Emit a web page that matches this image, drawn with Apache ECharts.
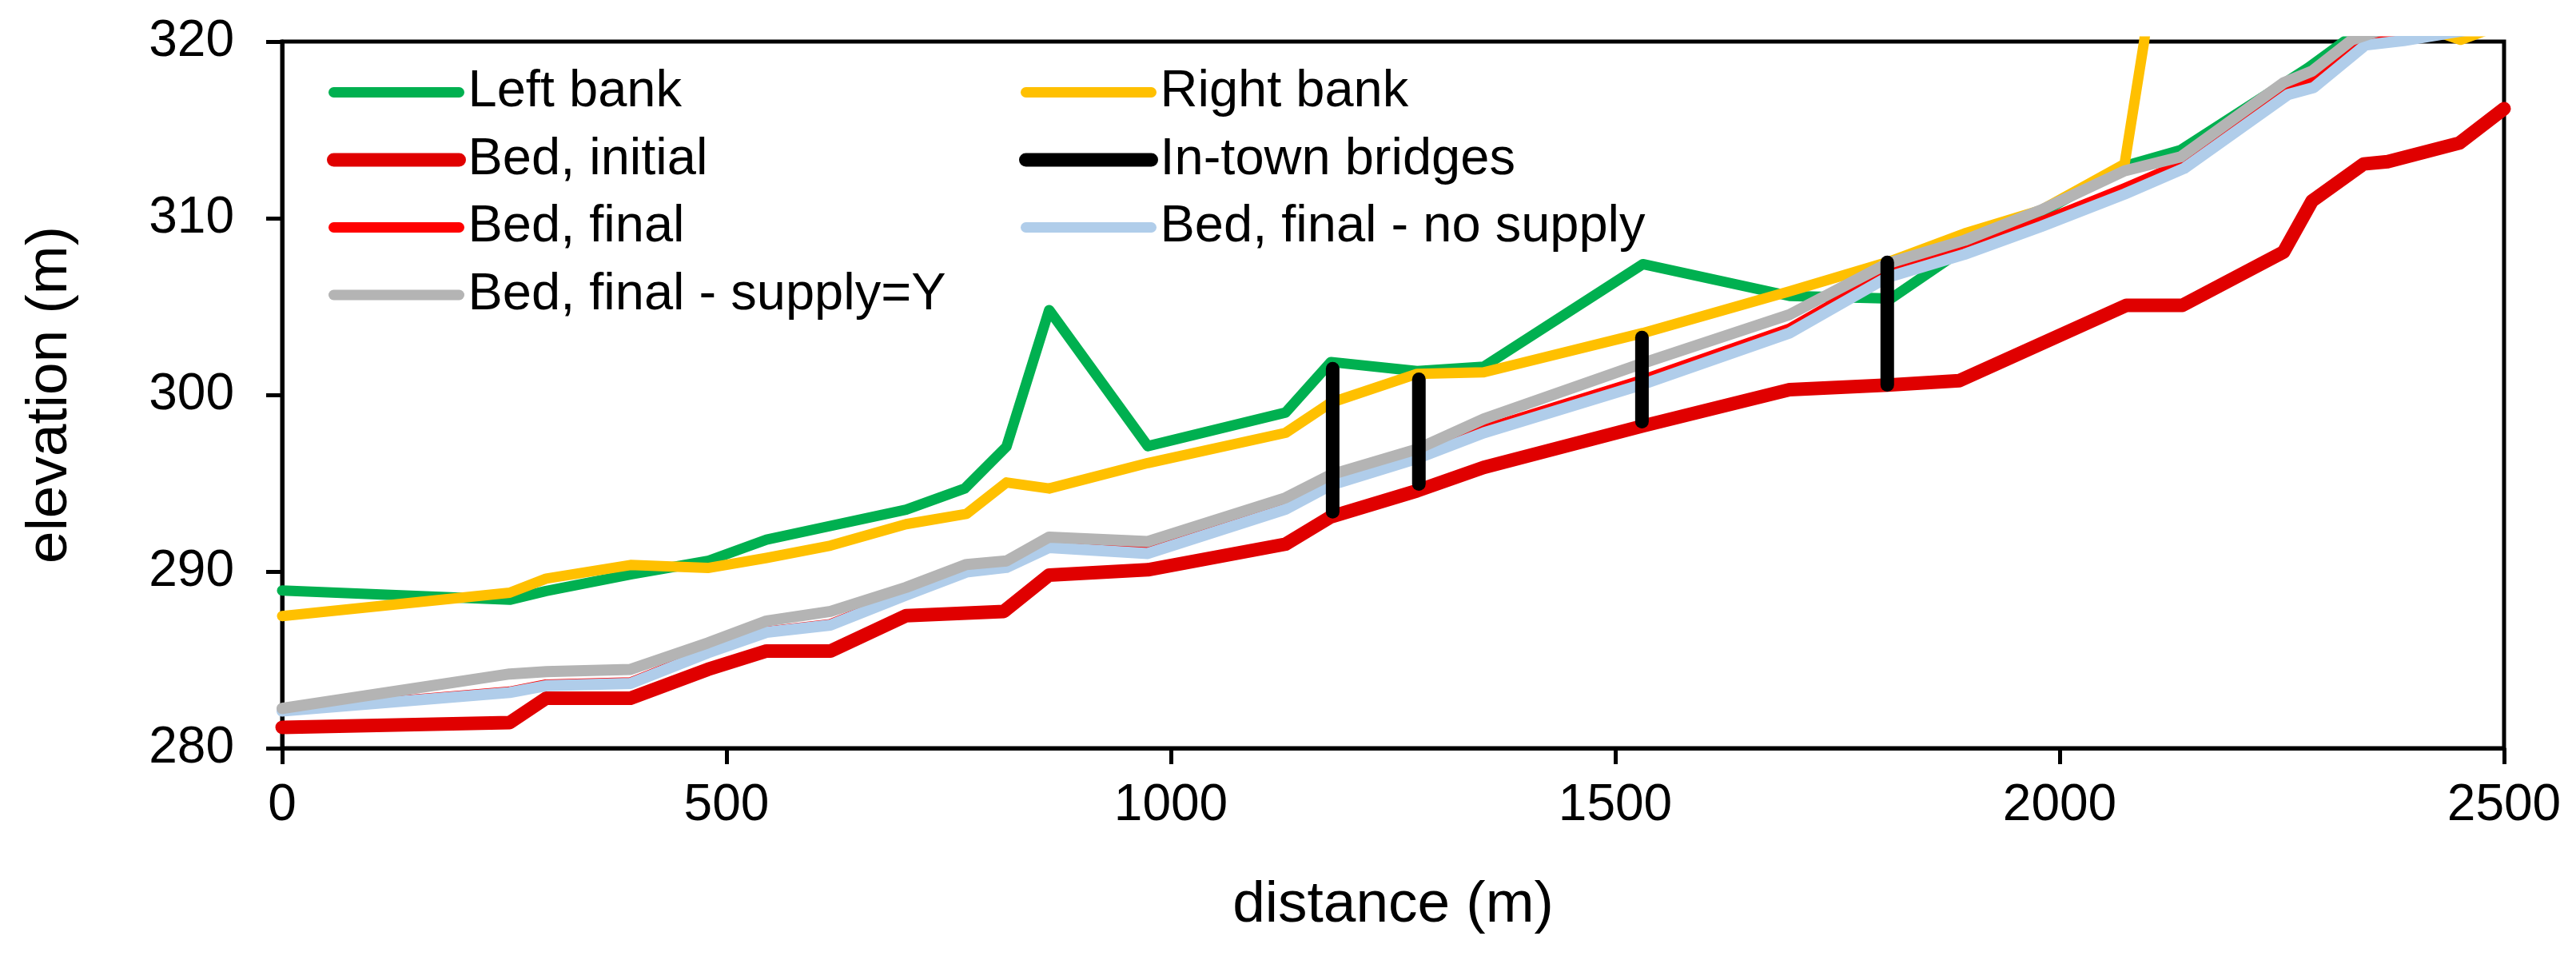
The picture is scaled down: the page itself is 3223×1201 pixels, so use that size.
<!DOCTYPE html>
<html>
<head>
<meta charset="utf-8">
<script src="https://cdn.jsdelivr.net/npm/echarts@6/dist/echarts.min.js"></script>
<style>
html,body{margin:0;padding:0;background:#fff;}
#c{width:3223px;height:1201px;}
</style>
</head>
<body>
<div id="c"></div>
<script>
// ---- data (distance m, elevation m) ----
const leftBankX = [0, 256, 297, 392, 479, 545, 702, 768, 815, 863, 974, 1129, 1180, 1277, 1352, 1531, 1696, 1810, 1893, 1979, 2073, 2136, 2279, 2320, 2345, 2500];
const leftBankY = [288.92, 288.4, 288.9, 289.84, 290.6, 291.8, 293.5, 294.7, 297.07, 304.8, 297.1, 299.0, 301.86, 301.35, 301.6, 307.4, 305.6, 305.45, 308.3, 310.3, 312.95, 313.86, 318.5, 320.0, 320.8, 324.0];

const rightBankX = [0, 256, 297, 392, 479, 545, 617, 702, 770, 815, 863, 974, 1129, 1180, 1277, 1352, 1531, 1696, 1810, 1893, 1979, 2073, 2095, 2110, 2451, 2500];
const rightBankY = [287.48, 288.8, 289.6, 290.37, 290.2, 290.77, 291.47, 292.68, 293.26, 295.04, 294.7, 296.14, 297.85, 299.56, 301.19, 301.28, 303.5, 305.86, 307.57, 309.14, 310.45, 313.07, 320.0, 326.0, 320.1, 321.0];

const bedInitialX = [0, 256, 297, 392, 479, 545, 617, 702, 812, 863, 974, 1129, 1180, 1277, 1352, 1531, 1696, 1806, 1887, 2075, 2138, 2252, 2284, 2342, 2369, 2450, 2500];
const bedInitialY = [281.18, 281.45, 282.83, 282.83, 284.46, 285.5, 285.5, 287.5, 287.74, 289.8, 290.1, 291.55, 293.1, 294.57, 295.89, 298.24, 300.29, 300.55, 300.8, 305.07, 305.07, 308.09, 310.98, 313.07, 313.2, 314.26, 316.2];

const bedFinalX = [0, 256, 297, 392, 479, 545, 617, 702, 770, 815, 863, 974, 1129, 1180, 1277, 1352, 1531, 1696, 1806, 1893, 1979, 2073, 2136, 2252, 2284, 2325, 2345, 2500];
const bedFinalY = [282.13, 283.2, 283.6, 283.72, 285.45, 286.6, 287.02, 288.7, 290.02, 290.28, 291.42, 291.2, 293.65, 295.05, 296.55, 298.05, 300.85, 303.75, 306.9, 308.2, 309.8, 311.7, 313.05, 317.3, 317.7, 319.6, 320.2, 322.0];

const noSupplyX = [0, 256, 297, 392, 479, 545, 617, 702, 770, 815, 863, 974, 1129, 1180, 1277, 1352, 1531, 1696, 1806, 1893, 1979, 2073, 2140, 2257, 2286, 2344, 2387, 2500];
const noSupplyY = [282.1, 283.15, 283.54, 283.67, 285.4, 286.56, 286.97, 288.66, 289.97, 290.23, 291.36, 291.02, 293.52, 294.9, 296.4, 297.85, 300.6, 303.5, 306.65, 307.96, 309.53, 311.37, 312.82, 317.0, 317.4, 319.8, 320.05, 321.0];

const supplyYX = [0, 256, 297, 392, 479, 545, 617, 702, 770, 815, 863, 974, 1129, 1180, 1277, 1352, 1531, 1696, 1806, 1893, 1979, 2073, 2136, 2252, 2284, 2329, 2500];
const supplyYY = [282.25, 284.2, 284.33, 284.46, 285.96, 287.2, 287.74, 289.1, 290.4, 290.6, 291.95, 291.7, 294.17, 295.48, 296.93, 298.64, 301.79, 304.54, 307.43, 308.75, 310.46, 312.68, 313.47, 317.67, 318.33, 320.1, 323.0];

const bridgeX = [1182, 1279, 1530, 1806];
const bridgeBottom = [293.38, 294.95, 298.48, 300.57];
const bridgeTop = [301.48, 300.88, 303.25, 307.5];

const xTicks = [0, 500, 1000, 1500, 2000, 2500];
const yTicks = [280, 290, 300, 310, 320];

// ---- build ----
const pairs = (xs, ys) => xs.map((x, i) => [x, ys[i]]);
const FONT = 'Liberation Sans, Arial, sans-serif';

function lineSeries(name, xs, ys, color, width) {
  return {
    name: name, type: 'line', data: pairs(xs, ys),
    symbol: 'none', showSymbol: false, animation: false,
    lineStyle: { color: color, width: width, cap: 'round', join: 'round' },
    itemStyle: { color: color },
    clip: true, emphasis: { disabled: true }
  };
}

const series = [
  lineSeries('Left bank', leftBankX, leftBankY, '#00B050', 13),
  lineSeries('Right bank', rightBankX, rightBankY, '#FFC000', 13),
  lineSeries('Bed, initial', bedInitialX, bedInitialY, '#E00000', 17),
  lineSeries('Bed, final', bedFinalX, bedFinalY, '#FF0000', 13),
  lineSeries('Bed, final - no supply', noSupplyX, noSupplyY, '#B0CDEA', 14),
  lineSeries('Bed, final - supply=Y', supplyYX, supplyYY, '#B4B4B4', 14)
];
bridgeX.forEach((x, i) => {
  series.push(lineSeries('In-town bridges', [x, x], [bridgeBottom[i], bridgeTop[i]], '#000000', 17));
});

const legendText = { fontSize: 65, color: '#000', fontFamily: FONT, padding: [0, 0, 0, 6] };
const legendCommon = {
  orient: 'vertical', top: 78, itemWidth: 157, itemHeight: 20, itemGap: 19.5,
  textStyle: legendText, selectedMode: false,
  itemStyle: { opacity: 0, borderWidth: 0 }
};

const option = {
  backgroundColor: '#fff',
  animation: false,
  grid: { left: 353, right: 90, top: 52, bottom: 265, show: true, borderColor: '#000', borderWidth: 5, containLabel: false },
  legend: [
    Object.assign({}, legendCommon, {
      left: 404,
      data: [
        { name: 'Left bank', lineStyle: { width: 13 } },
        { name: 'Bed, initial', lineStyle: { width: 17 } },
        { name: 'Bed, final', lineStyle: { width: 13 } },
        { name: 'Bed, final - supply=Y', lineStyle: { width: 13 } }
      ]
    }),
    Object.assign({}, legendCommon, {
      left: 1270,
      data: [
        { name: 'Right bank', lineStyle: { width: 13 } },
        { name: 'In-town bridges', lineStyle: { width: 17 } },
        { name: 'Bed, final - no supply', lineStyle: { width: 13 } }
      ]
    })
  ],
  xAxis: {
    type: 'value', min: xTicks[0], max: xTicks[xTicks.length - 1], interval: 500,
    name: 'distance (m)', nameLocation: 'middle', nameGap: 160,
    nameTextStyle: { fontSize: 73, color: '#000', fontFamily: FONT },
    axisLine: { show: true, onZero: false, lineStyle: { color: '#000', width: 5 } },
    axisTick: { show: true, inside: false, length: 20, lineStyle: { color: '#000', width: 5 } },
    axisLabel: { fontSize: 64, color: '#000', fontFamily: FONT, margin: 40, formatter: v => String(v) },
    splitLine: { show: false }
  },
  yAxis: {
    type: 'value', min: yTicks[0], max: yTicks[yTicks.length - 1], interval: 10,
    name: 'elevation (m)', nameLocation: 'middle', nameGap: 254, nameRotate: 90,
    nameTextStyle: { fontSize: 73, color: '#000', fontFamily: FONT },
    axisLine: { show: true, onZero: false, lineStyle: { color: '#000', width: 5 } },
    axisTick: { show: true, inside: false, length: 20, lineStyle: { color: '#000', width: 5 } },
    axisLabel: { fontSize: 64, color: '#000', fontFamily: FONT, margin: 60, formatter: v => String(v) },
    splitLine: { show: false }
  },
  series: series
};

const chart = echarts.init(document.getElementById('c'), null, { renderer: 'canvas' });
chart.setOption(option);
</script>
</body>
</html>
